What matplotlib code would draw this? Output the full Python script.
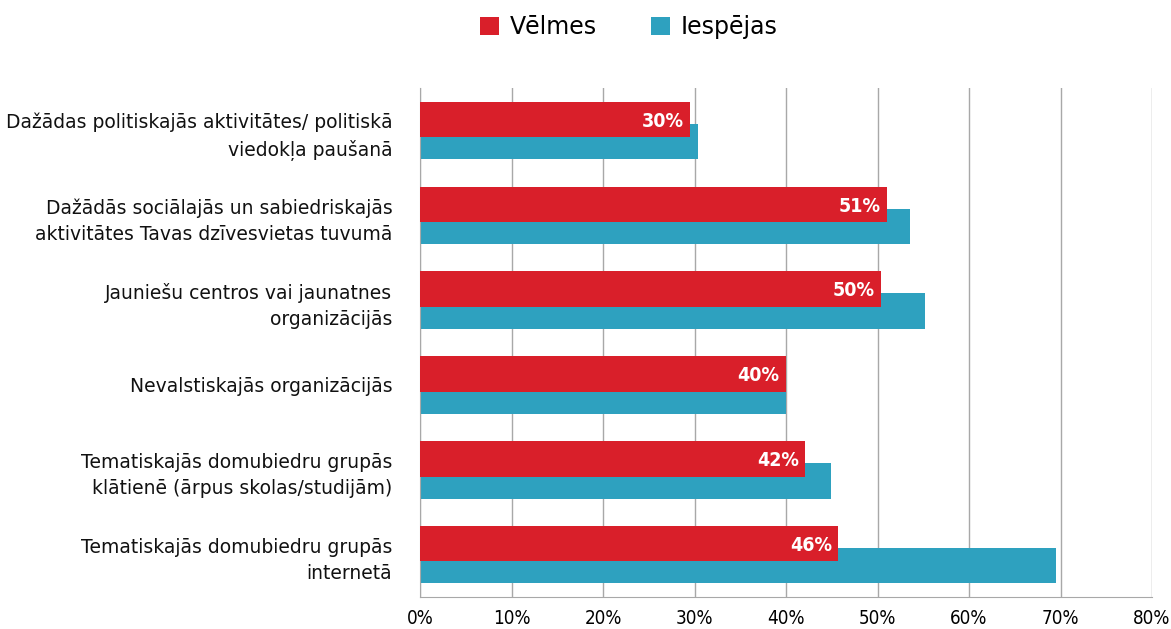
import matplotlib

matplotlib.use('Agg')
import matplotlib.pyplot as plt
import numpy as np

# dati
categories = [
    'Dažādas politiskajās aktivitātes/ politiskā\nviedokļa paušanā',
    'Dažādās sociālajās un sabiedriskajās\naktivitātes Tavas dzīvesvietas tuvumā',
    'Jauniešu centros vai jaunatnes\norganizācijās',
    'Nevalstiskajās organizācijās',
    'Tematiskajās domubiedru grupās\nklātienē (ārpus skolas/studijām)',
    'Tematiskajās domubiedru grupās\ninternetā',
]
velmes = [29.5, 51.0, 50.4, 40.0, 42.1, 45.7]
iespejas = [30.4, 53.6, 55.2, 40.0, 44.9, 69.5]
x_ticks = [0, 10, 20, 30, 40, 50, 60, 70, 80]

RED = '#D91F2A'
TEAL = '#2EA1BF'

fig = plt.figure(figsize=(11.71, 6.29), dpi=100)
ax = fig.add_axes([0.3587, 0.0509, 0.6251, 0.809])

y = np.arange(len(categories))
h = 0.42
ax.barh(y + 0.13, iespejas, height=h, color=TEAL, label='Iespējas', zorder=2)
bars = ax.barh(y - 0.13, velmes, height=h, color=RED, label='Vēlmes', zorder=3)

for b, v in zip(bars, velmes):
    ax.text(b.get_width() - 0.7, b.get_y() + b.get_height() / 2 + 0.02,
            f'{v:.0f}%', ha='right', va='center', color='white',
            fontsize=14, fontweight='bold', fontstretch='condensed', zorder=4)

ax.set_xlim(0, 80)
ax.set_ylim(len(categories) - 0.5, -0.5)
ax.set_xticks(x_ticks)
ax.set_xticklabels([f'{t}%' for t in x_ticks], fontsize=13.5,
                   fontstretch='condensed')
ax.set_yticks(y)
ax.set_yticklabels(categories, fontsize=13.5, color='#111111',
                   multialignment='right', linespacing=1.5)
ax.tick_params(axis='both', length=0)
ax.tick_params(axis='x', pad=9)
ax.tick_params(axis='y', pad=20)

ax.grid(axis='x', color='#A8A8A8', linewidth=1, zorder=0)
ax.set_axisbelow(True)
for s in ['top', 'right']:
    ax.spines[s].set_visible(False)
for s in ['left', 'bottom']:
    ax.spines[s].set_color('#A8A8A8')

handles, labels = ax.get_legend_handles_labels()
fig.legend(handles[::-1], labels[::-1], loc='upper center',
           bbox_to_anchor=(0.537, 1.01), ncol=2, frameon=False,
           fontsize=17, handlelength=0.8, handleheight=0.8,
           handletextpad=0.45, columnspacing=2.3)

plt.savefig('out.png', dpi=100)
plt.close(fig)
